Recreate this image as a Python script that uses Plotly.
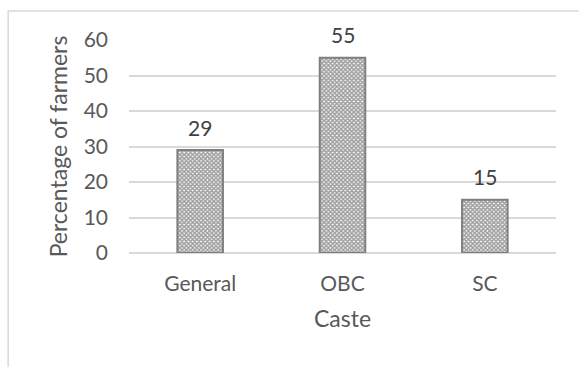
import plotly.graph_objects as go

# Share of surveyed farmers by caste group
castes = ["General", "OBC", "SC"]
percent_farmers = [29, 55, 15]
y_ticks = [0, 10, 20, 30, 40, 50, 60]

FONT = "Lato, 'Open Sans', sans-serif"
TEXT_GREY = "#595959"

fig = go.Figure()
fig.add_trace(go.Bar(
    x=castes,
    y=percent_farmers,
    marker=dict(
        color="white",
        line=dict(color="#7f7f7f", width=2),
        pattern=dict(shape="x", fgcolor="#404040", bgcolor="white",
                     size=3, solidity=0.75, fillmode="overlay"),
    ),
    width=0.32,
    hoverinfo="x+y",
))

# value labels above each bar
for cat, val in zip(castes, percent_farmers):
    fig.add_annotation(
        x=cat, y=val, text=str(val), showarrow=False,
        yanchor="middle", yshift=23,
        font=dict(family=FONT, size=21, color="#404040"),
    )

# outer frame of the chart area
fig.add_shape(
    type="rect", xref="paper", yref="paper",
    x0=-0.283, x1=1.08, y0=-0.7, y1=1.136,
    line=dict(color="#d9d9d9", width=1.5), fillcolor="rgba(0,0,0,0)",
    layer="below",
)

fig.update_layout(
    width=579, height=367,
    margin=dict(l=129, r=23, t=40, b=114),
    paper_bgcolor="white", plot_bgcolor="white",
    showlegend=False,
    font=dict(family=FONT, size=21, color=TEXT_GREY),
    xaxis=dict(
        showline=False, showgrid=False, ticks="",
        ticklabelstandoff=16,
        tickfont=dict(size=21, color=TEXT_GREY),
        title=dict(text="Caste", font=dict(size=23, color=TEXT_GREY), standoff=16),
    ),
    yaxis=dict(
        range=[0, 60], tickvals=y_ticks,
        showgrid=True, gridcolor="#d9d9d9", gridwidth=1.5,
        zeroline=True, zerolinecolor="#d9d9d9", zerolinewidth=1.5,
        showline=False, ticks="", ticklabelstandoff=20,
        tickfont=dict(size=21, color=TEXT_GREY),
        title=dict(text="Percentage of farmers", font=dict(size=23, color=TEXT_GREY), standoff=9),
    ),
)

fig.write_html("out.html")
